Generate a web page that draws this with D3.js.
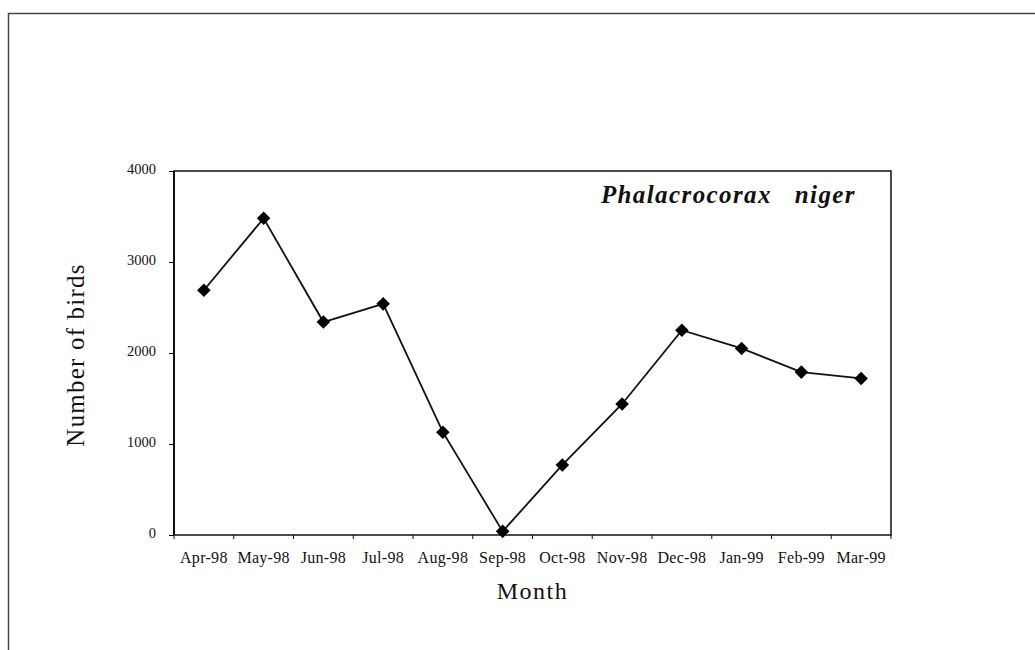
<!DOCTYPE html>
<html>
<head>
<meta charset="utf-8">
<script src="https://cdn.jsdelivr.net/npm/d3@7"></script>
<style>
  body { margin: 0; background: #fff; }
  svg { display: block; font-family: 'Liberation Serif', 'Times New Roman', serif; }
</style>
</head>
<body>
<script>
// monthly counts
var months = ['Apr-98', 'May-98', 'Jun-98', 'Jul-98', 'Aug-98', 'Sep-98', 'Oct-98', 'Nov-98', 'Dec-98', 'Jan-99', 'Feb-99', 'Mar-99']
var counts = [2690, 3480, 2340, 2540, 1130, 40, 770, 1440, 2250, 2050, 1790, 1720]
var yTicks = [0, 1000, 2000, 3000, 4000]
var species = 'Phalacrocorax\u00a0\u00a0\u00a0niger'

var width = 1035, height = 650
var margin = {left: 174, right: 144, top: 171, bottom: 115}
var w = width - margin.left - margin.right
var h = height - margin.top - margin.bottom

var svg = d3.select('body').append('svg').attr('width', width).attr('height', height)

// outer page frame (top and left only)
svg.append('path')
	.attr('d', 'M8.5,' + height + 'V13.5H' + width)
	.attr('fill', 'none').attr('stroke', '#444').attr('stroke-width', 1.5)

var x = d3.scaleBand().domain(months).range([0, w])
var y = d3.scaleLinear().domain([0, 4000]).range([h, 0])

var g = svg.append('g').attr('transform', 'translate(' + margin.left + ',' + margin.top + ')')

// plot box
g.append('rect').attr('width', w).attr('height', h)
	.attr('fill', 'none').attr('stroke', '#111').attr('stroke-width', 1.5)
g.append('line').attr('x1', 0).attr('x2', 0).attr('y1', 0).attr('y2', h)
	.attr('stroke', '#111').attr('stroke-width', 2)

var yAxis = d3.axisLeft(y).tickValues(yTicks).tickSize(5).tickPadding(13).tickFormat(d3.format('d'))
g.append('g').call(yAxis)
	.call(s => s.select('.domain').remove())
	.selectAll('text').attr('font-size', 14.5).attr('dy', '0.2em')
	.attr('font-family', 'Liberation Serif, serif').attr('fill', '#111')

// x ticks sit on the band boundaries
var bounds = months.map(m => x(m)).concat([w])
g.append('g').selectAll('line').data(bounds).enter().append('line')
	.attr('x1', d => d).attr('x2', d => d).attr('y1', h).attr('y2', h + 4)
	.attr('stroke', '#111')
g.append('g').selectAll('text').data(months).enter().append('text')
	.attr('x', d => x(d) + x.bandwidth() / 2).attr('y', h + 28)
	.attr('text-anchor', 'middle').attr('font-size', 16).attr('letter-spacing', 0.3).attr('fill', '#111')
	.text(d => d)

var line = d3.line()
	.x((d, i) => x(months[i]) + x.bandwidth() / 2)
	.y(d => y(d))

g.append('path').attr('d', line(counts))
	.attr('fill', 'none').attr('stroke', '#111').attr('stroke-width', 1.8)

g.selectAll('.pt').data(counts).enter().append('path')
	.attr('class', 'pt')
	.attr('d', d3.symbol().type(d3.symbolSquare).size(92))
	.attr('transform', (d, i) => 'translate(' + (x(months[i]) + x.bandwidth() / 2) + ',' + y(d) + ') rotate(45)')
	.attr('fill', '#000')

svg.append('text').attr('x', 856).attr('y', 203).attr('text-anchor', 'end')
	.attr('font-size', 25).attr('font-weight', 'bold').attr('font-style', 'italic')
	.attr('letter-spacing', 1.4).attr('fill', '#111')
	.text(species)

svg.append('text').attr('transform', 'translate(84,' + 355 + ') rotate(-90)')
	.attr('text-anchor', 'middle').attr('font-size', 25).attr('letter-spacing', 1.2).attr('fill', '#111')
	.text('Number of birds')

svg.append('text').attr('x', margin.left + w / 2).attr('y', 599)
	.attr('text-anchor', 'middle').attr('font-size', 24).attr('letter-spacing', 1.5).attr('fill', '#111')
	.text('Month')
</script>
</body>
</html>
